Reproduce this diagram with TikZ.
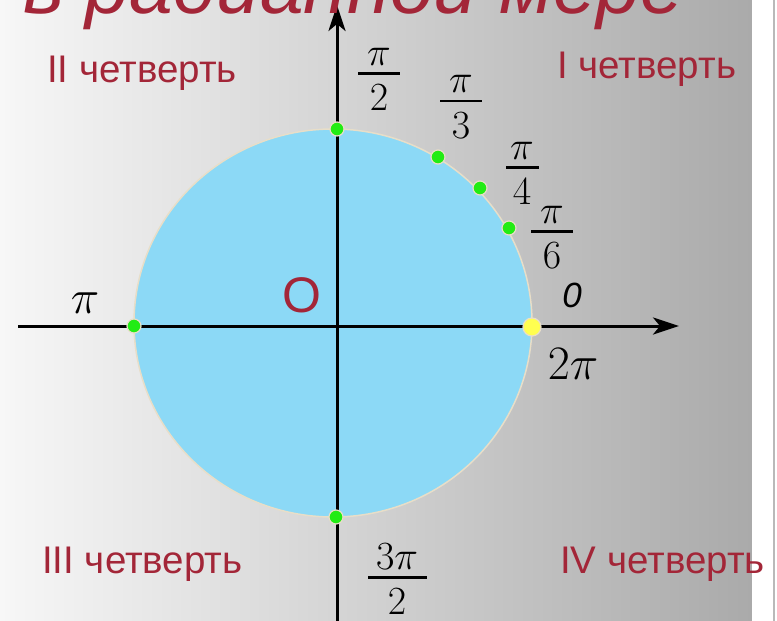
\RequirePackage{fix-cm}
\documentclass[tikz,border=0pt]{standalone}
\usepackage{fontspec}
\setmainfont{Liberation Serif}
\setsansfont{Liberation Sans}
\usetikzlibrary{arrows.meta}
\definecolor{myred}{RGB}{163,38,56}
\definecolor{myblue}{RGB}{140,217,246}
\definecolor{mygreen}{RGB}{34,236,20}
\definecolor{myyellow}{RGB}{255,255,80}
\definecolor{rim}{RGB}{232,222,200}
\definecolor{bgleft}{RGB}{247,247,247}
\definecolor{bgright}{RGB}{170,170,170}
% fraction label: name, x, bar y, bar width, numerator, denominator
\newcommand{\pifrac}[6]{%
  \node[fracbar, minimum width=#4] (#1-bar) at (#2,#3) {};
  \node[fracpart, anchor=south] (#1-num) at (#2,#3-8) {$#5$};
  \node[fracpart, anchor=north] (#1-den) at (#2,#3+11.5) {$#6$};
}
\begin{document}
\begin{tikzpicture}[x=1pt,y=-1pt,
  quart/.style={text=myred, font=\sffamily\fontsize{38.5}{46}\selectfont, inner sep=0, anchor=base west},
  fracpart/.style={font=\fontsize{40}{48}\selectfont, inner sep=0},
  fracbar/.style={fill=black, minimum height=2.8pt, inner sep=0, outer sep=0},
  biglab/.style={font=\fontsize{48}{56}\selectfont, inner sep=0, anchor=base},
  pt/.style={circle, fill=mygreen, draw=rim, line width=1.2pt, inner sep=0, minimum size=14pt},
  axis/.style={line width=3pt, -{Stealth[length=26pt,width=17pt,inset=7pt]}}]
\useasboundingbox (0,0) rectangle (777,621);
\clip (0,0) rectangle (777,621);
\shade[left color=bgleft, right color=bgright] (0,0) rectangle (752,621);
\fill[white] (752,0) rectangle (777,621);
\fill[gray!55] (773,0) rectangle (775,621);
% circle
\fill[myblue, draw=rim, line width=1.5pt] (333,323) ellipse [x radius=199, y radius=194];
% axes
\coordinate (xl) at (18,326);
\coordinate (xr) at (679,326);
\coordinate (yb) at (337,630);
\coordinate (yt) at (337,5);
\draw[axis] (xl) -- (xr);
\draw[axis] (yb) -- (yt);
% title (cut off in the reference), drawn over the arrow tip
\node[anchor=base west, text=myred, font=\sffamily\itshape\fontsize{78.5}{88}\selectfont, inner sep=0] (title) at (23,13) {в радианной мере};
% points
\node[pt] (p90) at (337,129) {};
\node[pt] (p60) at (438,157) {};
\node[pt] (p45) at (480,188) {};
\node[pt] (p30) at (509,228) {};
\node[pt] (p180) at (134,326) {};
\node[pt] (p270) at (336,517) {};
\node[pt, fill=myyellow, minimum size=18pt] (p0) at (532,327) {};
% angle labels
\pifrac{l90}{379}{73.5}{42pt}{\pi}{2}
\pifrac{l60}{461}{101}{42pt}{\pi}{3}
\pifrac{l45}{522}{167.5}{33pt}{\pi}{4}
\pifrac{l30}{552}{231.5}{42pt}{\pi}{6}
\pifrac{l270}{397}{577.5}{59pt}{3\pi}{2}
\node[biglab] (l180) at (85,313) {$\pi$};
\node[biglab] (l360) at (573,379) {$2\pi$};
\node[anchor=base, inner sep=0, font=\sffamily\itshape\fontsize{35}{40}\selectfont] (lzero) at (572,307) {0};
\node[anchor=base, inner sep=0, text=myred, font=\sffamily\fontsize{50}{56}\selectfont] (origin) at (302,312) {O};
% quarters
\node[quart] (q2) at (47,82) {II четверть};
\node[quart] (q1) at (557,78) {I четверть};
\node[quart] (q3) at (42,573) {III четверть};
\node[quart] (q4) at (560,573) {IV четверть};
\end{tikzpicture}
\end{document}
